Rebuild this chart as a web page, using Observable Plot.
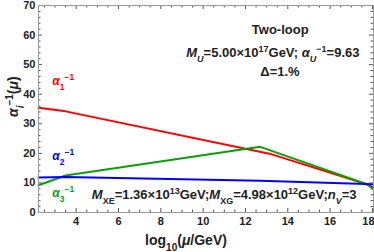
<!DOCTYPE html>
<html><head><meta charset="utf-8">
<script src="https://cdn.jsdelivr.net/npm/d3@7"></script>
<script src="https://cdn.jsdelivr.net/npm/@observablehq/plot@0.6"></script>
<style>body{margin:0;background:#fff}</style>
</head><body><div id="chart"></div>
<script>
const xTicks = [4, 6, 8, 10, 12, 14, 16, 18];
const yTicks = [0, 10, 20, 30, 40, 50, 60, 70];
const xDomain = [2.22, 18.05];
const yDomain = [0, 70];

const redX = [2.22, 3.5, 13.13, 17.7, 18.05];
const redY = [35.4, 34.2, 19.9, 9.63, 8.5];
const blueX = [2.22, 3.5, 12.7, 17.7, 18.05];
const blueY = [11.8, 12.0, 10.7, 9.63, 9.55];
const greenX = [2.22, 3.5, 12.7, 17.7, 18.05];
const greenY = [9.2, 12.5, 22.2, 9.63, 8.0];

// curve labels and annotations, left-anchored at their data positions
const curveLabels = [
  {key: "K_a1", x: 2.87, y: 43.1, color: "#ff0000"},
  {key: "K_a2", x: 2.87, y: 17.7, color: "#0000ff"},
  {key: "K_a3", x: 2.87, y: 5.3, color: "#0a9f0a"}
];
const notes = [
  {key: "K_two", x: 12.3, y: 60.3},
  {key: "K_mu", x: 9.2, y: 52.7},
  {key: "K_delta", x: 12.7, y: 46.2},
  {key: "K_mx", x: 4.74, y: 4.5}
];

const sub = (t, s = 9) => `<tspan baseline-shift="sub" font-size="${s}">${t}</tspan>`;
const sup = (t, s = 9) => `<tspan baseline-shift="super" font-size="${s}">${t}</tspan>`;
const it = (t) => `<tspan font-style="italic">${t}</tspan>`;
const rich = {
  K_a1: it("α") + sub("1", 8.5) + sup("−1", 8.5),
  K_a2: it("α") + sub("2", 8.5) + sup("−1", 8.5),
  K_a3: it("α") + sub("3", 8.5) + sup("−1", 8.5),
  K_two: "Two-loop",
  K_mu: it("M") + sub(it("U")) + "=5.00×10" + sup("17") + "GeV; " + it("α") + sub(it("U")) + sup("−1") + "=9.63",
  K_delta: "Δ=1.%",
  K_mx: it("M") + sub("XE") + "=1.36×10" + sup("13") + "GeV;" + it("M") + sub("XG") + "=4.98×10" + sup("12") + "GeV;" + it("n") + sub(it("V")) + "=3",
  K_xlab: "log" + `<tspan baseline-shift="sub" font-size="10">10</tspan>` + "(" + it("μ") + "/GeV)",
  K_ylab: it("α") + sub(it("i"), 10) + sup("−1", 10) + "(" + it("μ") + ")"
};

const toRows = (xs, ys) => xs.map((x, i) => ({x, y: ys[i]}));
const xMinor = d3.range(2.5, 18.01, 0.5).filter(v => !xTicks.includes(v));
const yMinor = d3.range(0, 70.01, 2).filter(v => !yTicks.includes(v));

const W = 374, H = 252, mL = 38, mR = 1, mT = 5, mB = 40;
const iw = W - mL - mR, ih = H - mT - mB;
const tickCol = "#555";

const plot = Plot.plot({
  width: W, height: H,
  marginLeft: mL, marginRight: mR, marginTop: mT, marginBottom: mB,
  x: {domain: xDomain},
  y: {domain: yDomain},
  style: {fontFamily: "Liberation Sans, Arial, sans-serif", fontSize: "11px", fontWeight: "bold", background: "#fff", overflow: "visible"},
  marks: [
    Plot.line(toRows(redX, redY), {x: "x", y: "y", stroke: "#ff0000", strokeWidth: 2}),
    Plot.line(toRows(greenX, greenY), {x: "x", y: "y", stroke: "#0a9f0a", strokeWidth: 2}),
    Plot.line(toRows(blueX, blueY), {x: "x", y: "y", stroke: "#0000ff", strokeWidth: 2}),
    Plot.tickX(xTicks, {x: d => d, insetTop: ih - 4, stroke: tickCol}),
    Plot.tickX(xTicks, {x: d => d, insetBottom: ih - 4, stroke: tickCol}),
    Plot.tickX(xMinor, {x: d => d, insetTop: ih - 2.5, stroke: tickCol}),
    Plot.tickX(xMinor, {x: d => d, insetBottom: ih - 2.5, stroke: tickCol}),
    Plot.tickY(yTicks, {y: d => d, insetRight: iw - 4, stroke: tickCol}),
    Plot.tickY(yTicks, {y: d => d, insetLeft: iw - 4, stroke: tickCol}),
    Plot.tickY(yMinor, {y: d => d, insetRight: iw - 2.5, stroke: tickCol}),
    Plot.tickY(yMinor, {y: d => d, insetLeft: iw - 2.5, stroke: tickCol}),
    Plot.frame({stroke: "#999", strokeWidth: 1}),
    Plot.axisX({ticks: xTicks.slice(0, -1), tickSize: 0, tickPadding: 5, label: null, fontSize: 11, fontWeight: "bold", fill: "#222"}),
    Plot.axisX({ticks: xTicks.slice(-1), tickSize: 0, tickPadding: 5, label: null, fontSize: 11, fontWeight: "bold", fill: "#222", dx: -4}),
    Plot.axisY({ticks: yTicks, tickSize: 0, tickPadding: 3, label: null, fontSize: 11, fontWeight: "bold", fill: "#222"}),
    Plot.text(curveLabels, {x: "x", y: "y", text: "key", textAnchor: "start", fill: "color", fontSize: 12, fontWeight: "bold", lineAnchor: "bottom"}),
    Plot.text(notes, {x: "x", y: "y", text: "key", textAnchor: "start", fill: "#222", fontSize: 13, fontWeight: "bold", lineAnchor: "bottom"}),
    Plot.text(["K_xlab"], {frameAnchor: "bottom", text: d => d, dx: -20, dy: 32, fontSize: 14, fontWeight: "bold", fill: "#222", lineAnchor: "bottom"}),
    Plot.text(["K_ylab"], {frameAnchor: "left", text: d => d, dx: -25, dy: 8, rotate: -90, fontSize: 14, fontWeight: "bold", fill: "#222", lineAnchor: "middle"})
  ]
});

d3.select(plot).selectAll("text").each(function() {
  const k = this.textContent;
  if (rich[k] !== undefined) this.innerHTML = rich[k];
});

document.getElementById("chart").appendChild(plot);
</script>
</body></html>
